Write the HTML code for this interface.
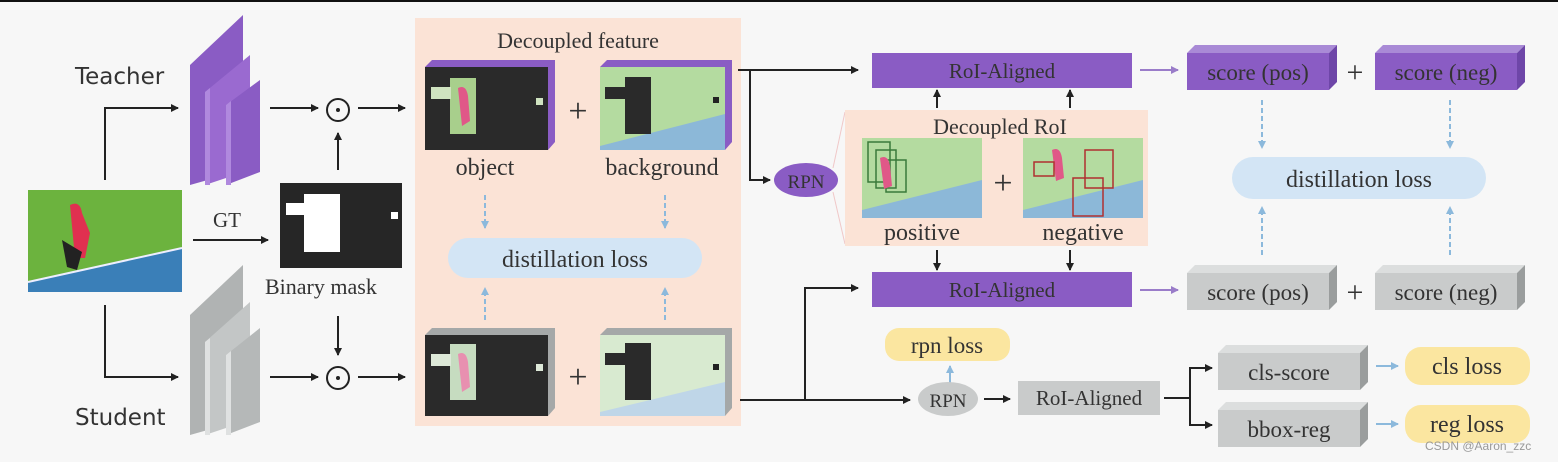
<!DOCTYPE html>
<html><head><meta charset="utf-8"><style>
html,body{margin:0;padding:0;background:#f7f7f7;}
svg{display:block}
.s{font-family:"Liberation Serif",serif;fill:#333;}
.a{font-family:"DejaVu Sans","Liberation Sans",sans-serif;fill:#333;}
</style></head><body>
<svg width="1558" height="462" viewBox="0 0 1558 462" xmlns="http://www.w3.org/2000/svg">
<defs>
<marker id="ah" markerWidth="8" markerHeight="8" refX="7" refY="4" orient="auto" markerUnits="userSpaceOnUse"><path d="M0,0 L8,4 L0,8 Z" fill="#222"/></marker>
<marker id="bh" markerWidth="8" markerHeight="8" refX="7" refY="4" orient="auto" markerUnits="userSpaceOnUse"><path d="M0,0 L8,4 L0,8 Z" fill="#8cb9dc"/></marker>
<marker id="ph" markerWidth="8" markerHeight="8" refX="7" refY="4" orient="auto" markerUnits="userSpaceOnUse"><path d="M0,0 L8,4 L0,8 Z" fill="#9a7cc9"/></marker>
</defs>
<rect width="1558" height="462" fill="#f7f7f7"/>
<rect x="0" y="0" width="1558" height="2" fill="#111"/>

<!-- Teacher -->
<text x="75" y="84" class="a" font-size="23">Teacher</text>
<g>
<polygon points="190,65 243,15 243,170 190,185" fill="#8a5cc4"/>
<polygon points="205,92 250,55 250,170 205,185" fill="#9a6ad0"/>
<polygon points="205,92 210,88 210,185 205,185" fill="#b089de"/>
<polygon points="226,105 260,80 260,172 226,185" fill="#8a5cc4"/>
<polygon points="226,105 231,101 231,185 226,185" fill="#b089de"/>
</g>
<text x="75" y="425" class="a" font-size="23">Student</text>
<g>
<polygon points="190,315 243,265 243,420 190,435" fill="#b0b3b3"/>
<polygon points="205,342 250,302 250,420 205,435" fill="#c3c6c6"/>
<polygon points="205,342 210,338 210,435 205,435" fill="#dfe1e1"/>
<polygon points="226,355 260,328 260,422 226,435" fill="#b5b8b8"/>
<polygon points="226,355 231,351 231,435 226,435" fill="#dfe1e1"/>
</g>

<!-- input image -->
<rect x="28" y="190" width="154" height="102" fill="#6cb33e"/>
<polygon points="28,282 182,248 182,292 28,292" fill="#3a7fb8"/>
<line x1="28" y1="282" x2="182" y2="248" stroke="#eef" stroke-width="2"/>
<path d="M70,205 q10,-5 12,8 l8,20 -5,25 -10,0 z" fill="#e03050"/>
<path d="M62,240 l20,12 -5,18 -10,-3z" fill="#222"/>

<!-- arrows left -->
<polyline points="105,180 105,108 178,108" fill="none" stroke="#222" stroke-width="2" marker-end="url(#ah)"/>
<polyline points="105,305 105,377 178,377" fill="none" stroke="#222" stroke-width="2" marker-end="url(#ah)"/>
<text x="213" y="227" class="s" font-size="21">GT</text>
<line x1="193" y1="240" x2="268" y2="240" stroke="#222" stroke-width="2" marker-end="url(#ah)"/>
<rect x="280" y="183" width="122" height="85" fill="#262626"/>
<rect x="304" y="194" width="36" height="58" fill="#fff"/>
<rect x="286" y="203" width="20" height="12" fill="#fff"/>
<rect x="391" y="212" width="7" height="7" fill="#fff"/>
<text x="265" y="294" class="s" font-size="22">Binary mask</text>

<line x1="270" y1="108" x2="318" y2="108" stroke="#222" stroke-width="2" marker-end="url(#ah)"/>
<circle cx="338" cy="110" r="11" fill="none" stroke="#222" stroke-width="2"/><circle cx="338" cy="110" r="2" fill="#222"/>
<line x1="358" y1="108" x2="405" y2="108" stroke="#222" stroke-width="2" marker-end="url(#ah)"/>
<line x1="338" y1="170" x2="338" y2="133" stroke="#222" stroke-width="2" marker-end="url(#ah)"/>
<line x1="270" y1="377" x2="318" y2="377" stroke="#222" stroke-width="2" marker-end="url(#ah)"/>
<circle cx="338" cy="378" r="11" fill="none" stroke="#222" stroke-width="2"/><circle cx="338" cy="378" r="2" fill="#222"/>
<line x1="358" y1="377" x2="405" y2="377" stroke="#222" stroke-width="2" marker-end="url(#ah)"/>
<line x1="338" y1="316" x2="338" y2="355" stroke="#222" stroke-width="2" marker-end="url(#ah)"/>

<!-- Decoupled feature panel -->
<rect x="415" y="18" width="326" height="408" fill="#fbe3d6"/>
<text x="578" y="48" class="s" font-size="22" text-anchor="middle">Decoupled feature</text>
<!-- teacher object -->
<polygon points="425,67 432,60 555,60 555,142 548,150 425,150" fill="#8a5cc4"/>
<rect x="425" y="67" width="123" height="83" fill="#2a2a2a"/>
<rect x="450" y="78" width="26" height="56" fill="#a8cf8c"/>
<path d="M458,88 q8,-4 10,8 l2,25 -8,5 z" fill="#e05888"/>
<rect x="431" y="87" width="20" height="12" fill="#cfe3c0"/>
<rect x="536" y="98" width="7" height="7" fill="#cfe3c0"/>
<text x="578" y="122" class="s" font-size="34" text-anchor="middle">+</text>
<polygon points="600,67 607,60 732,60 732,142 725,150 600,150" fill="#8a5cc4"/>
<rect x="600" y="67" width="125" height="83" fill="#b4dba0"/>
<polygon points="600,146 725,114 725,150 600,150" fill="#8cb8d8"/>
<rect x="625" y="77" width="26" height="57" fill="#2a2a2a"/>
<rect x="605" y="87" width="22" height="12" fill="#2a2a2a"/>
<rect x="713" y="97" width="6" height="6" fill="#222"/>
<text x="485" y="175" class="s" font-size="24" text-anchor="middle">object</text>
<text x="662" y="175" class="s" font-size="24" text-anchor="middle">background</text>
<line x1="485" y1="195" x2="485" y2="228" stroke="#8cb9dc" stroke-width="2" stroke-dasharray="5,3" marker-end="url(#bh)"/>
<line x1="665" y1="195" x2="665" y2="228" stroke="#8cb9dc" stroke-width="2" stroke-dasharray="5,3" marker-end="url(#bh)"/>
<rect x="448" y="238" width="254" height="40" rx="20" fill="#d3e5f5"/>
<text x="575" y="267" class="s" font-size="24" text-anchor="middle">distillation loss</text>
<line x1="485" y1="320" x2="485" y2="288" stroke="#8cb9dc" stroke-width="2" stroke-dasharray="5,3" marker-end="url(#bh)"/>
<line x1="665" y1="320" x2="665" y2="288" stroke="#8cb9dc" stroke-width="2" stroke-dasharray="5,3" marker-end="url(#bh)"/>
<!-- student features -->
<polygon points="425,335 432,328 555,328 555,408 548,416 425,416" fill="#a5a8a8"/>
<rect x="425" y="335" width="123" height="81" fill="#2a2a2a"/>
<rect x="450" y="344" width="26" height="56" fill="#c6dcc0"/>
<path d="M458,354 q8,-4 10,8 l2,25 -8,5 z" fill="#e890b0"/>
<rect x="431" y="354" width="20" height="12" fill="#dde8d8"/>
<rect x="536" y="364" width="7" height="7" fill="#dde8d8"/>
<text x="578" y="388" class="s" font-size="34" text-anchor="middle">+</text>
<polygon points="600,335 607,328 732,328 732,408 725,416 600,416" fill="#a5a8a8"/>
<rect x="600" y="335" width="125" height="81" fill="#d8ead0"/>
<polygon points="600,412 725,382 725,416 600,416" fill="#bfd6e8"/>
<rect x="625" y="343" width="26" height="57" fill="#2a2a2a"/>
<rect x="605" y="353" width="22" height="12" fill="#2a2a2a"/>
<rect x="713" y="364" width="6" height="6" fill="#222"/>

<!-- connectors middle -->
<line x1="738" y1="70" x2="858" y2="70" stroke="#222" stroke-width="2" marker-end="url(#ah)"/>
<polyline points="750,70 750,180 770,180" fill="none" stroke="#222" stroke-width="2" marker-end="url(#ah)"/>
<ellipse cx="806" cy="180" rx="32" ry="17" fill="#8a5cc4"/>
<text x="806" y="188" class="s" font-size="19" text-anchor="middle" fill="#333">RPN</text>
<line x1="833" y1="168" x2="845" y2="112" stroke="#f0c8c8" stroke-width="1"/>
<line x1="833" y1="192" x2="845" y2="244" stroke="#f0c8c8" stroke-width="1"/>
<polyline points="740,400 910,400" fill="none" stroke="#222" stroke-width="2" marker-end="url(#ah)"/>
<polyline points="805,400 805,288 858,288" fill="none" stroke="#222" stroke-width="2" marker-end="url(#ah)"/>

<!-- RoI Aligned -->
<rect x="872" y="53" width="260" height="35" fill="#8a5cc4"/>
<text x="1002" y="78" class="s" font-size="21" text-anchor="middle">RoI-Aligned</text>
<line x1="937" y1="108" x2="937" y2="90" stroke="#222" stroke-width="2" marker-end="url(#ah)"/>
<line x1="1070" y1="108" x2="1070" y2="90" stroke="#222" stroke-width="2" marker-end="url(#ah)"/>
<rect x="845" y="110" width="303" height="136" fill="#fbe3d6"/>
<text x="1000" y="134" class="s" font-size="22" text-anchor="middle">Decoupled RoI</text>
<rect x="862" y="138" width="120" height="80" fill="#b4dba0"/>
<polygon points="862,210 982,180 982,218 862,218" fill="#8cb8d8"/>
<rect x="868" y="142" width="22" height="40" fill="none" stroke="#3a7a3a" stroke-width="1.5"/>
<rect x="876" y="150" width="20" height="38" fill="none" stroke="#3a7a3a" stroke-width="1.5"/>
<rect x="886" y="160" width="20" height="32" fill="none" stroke="#3a7a3a" stroke-width="1.5"/>
<path d="M880,158 q8,-4 10,8 l2,20 -8,3 z" fill="#e05888"/>
<text x="1003" y="194" class="s" font-size="34" text-anchor="middle">+</text>
<rect x="1023" y="138" width="120" height="80" fill="#b4dba0"/>
<polygon points="1023,210 1143,180 1143,218 1023,218" fill="#8cb8d8"/>
<path d="M1052,150 q8,-4 10,8 l2,20 -8,3 z" fill="#e05888"/>
<rect x="1034" y="162" width="20" height="14" fill="none" stroke="#b03030" stroke-width="1.5"/>
<rect x="1085" y="150" width="28" height="38" fill="none" stroke="#b03030" stroke-width="1.5"/>
<rect x="1073" y="178" width="30" height="38" fill="none" stroke="#b03030" stroke-width="1.5"/>
<text x="922" y="240" class="s" font-size="24" text-anchor="middle">positive</text>
<text x="1083" y="240" class="s" font-size="24" text-anchor="middle">negative</text>
<line x1="937" y1="250" x2="937" y2="270" stroke="#222" stroke-width="2" marker-end="url(#ah)"/>
<line x1="1070" y1="250" x2="1070" y2="270" stroke="#222" stroke-width="2" marker-end="url(#ah)"/>
<rect x="872" y="272" width="260" height="35" fill="#8a5cc4"/>
<text x="1002" y="297" class="s" font-size="21" text-anchor="middle">RoI-Aligned</text>
<line x1="1140" y1="70" x2="1178" y2="70" stroke="#9a7cc9" stroke-width="2" marker-end="url(#ph)"/>
<line x1="1140" y1="290" x2="1178" y2="290" stroke="#9a7cc9" stroke-width="2" marker-end="url(#ph)"/>

<!-- scores -->
<g>
<polygon points="1187,53 1195,45 1337,45 1329,53" fill="#a98ad6"/>
<polygon points="1329,53 1337,45 1337,82 1329,90" fill="#6e46a8"/>
<rect x="1187" y="53" width="142" height="37" fill="#8a5cc4"/>
<text x="1258" y="80" class="s" font-size="23" text-anchor="middle">score (pos)</text>
<text x="1355" y="82" class="s" font-size="30" text-anchor="middle">+</text>
<polygon points="1375,53 1383,45 1525,45 1517,53" fill="#a98ad6"/>
<polygon points="1517,53 1525,45 1525,82 1517,90" fill="#6e46a8"/>
<rect x="1375" y="53" width="142" height="37" fill="#8a5cc4"/>
<text x="1446" y="80" class="s" font-size="23" text-anchor="middle">score (neg)</text>
</g>
<g>
<polygon points="1187,273 1195,265 1337,265 1329,273" fill="#dcdede"/>
<polygon points="1329,273 1337,265 1337,302 1329,310" fill="#9a9d9d"/>
<rect x="1187" y="273" width="142" height="37" fill="#c9cbcb"/>
<text x="1258" y="300" class="s" font-size="23" text-anchor="middle">score (pos)</text>
<text x="1355" y="302" class="s" font-size="30" text-anchor="middle">+</text>
<polygon points="1375,273 1383,265 1525,265 1517,273" fill="#dcdede"/>
<polygon points="1517,273 1525,265 1525,302 1517,310" fill="#9a9d9d"/>
<rect x="1375" y="273" width="142" height="37" fill="#c9cbcb"/>
<text x="1446" y="300" class="s" font-size="23" text-anchor="middle">score (neg)</text>
</g>
<line x1="1262" y1="100" x2="1262" y2="148" stroke="#8cb9dc" stroke-width="2" stroke-dasharray="5,3" marker-end="url(#bh)"/>
<line x1="1450" y1="100" x2="1450" y2="148" stroke="#8cb9dc" stroke-width="2" stroke-dasharray="5,3" marker-end="url(#bh)"/>
<rect x="1232" y="157" width="254" height="42" rx="21" fill="#d3e5f5"/>
<text x="1359" y="187" class="s" font-size="24" text-anchor="middle">distillation loss</text>
<line x1="1262" y1="255" x2="1262" y2="207" stroke="#8cb9dc" stroke-width="2" stroke-dasharray="5,3" marker-end="url(#bh)"/>
<line x1="1450" y1="255" x2="1450" y2="207" stroke="#8cb9dc" stroke-width="2" stroke-dasharray="5,3" marker-end="url(#bh)"/>

<!-- bottom pipeline -->
<rect x="885" y="328" width="125" height="33" rx="14" fill="#fbe6a0"/>
<text x="947" y="353" class="s" font-size="23" text-anchor="middle">rpn loss</text>
<line x1="950" y1="383" x2="950" y2="366" stroke="#8cb9dc" stroke-width="2" marker-end="url(#bh)"/>
<ellipse cx="948" cy="399" rx="30" ry="17" fill="#c9cbcb"/>
<text x="948" y="407" class="s" font-size="19" text-anchor="middle">RPN</text>
<line x1="984" y1="399" x2="1010" y2="399" stroke="#222" stroke-width="2" marker-end="url(#ah)"/>
<rect x="1018" y="381" width="142" height="34" fill="#c9cbcb"/>
<text x="1089" y="405" class="s" font-size="21" text-anchor="middle">RoI-Aligned</text>
<line x1="1164" y1="398" x2="1190" y2="398" stroke="#222" stroke-width="2"/>
<polyline points="1190,398 1190,368 1212,368" fill="none" stroke="#222" stroke-width="2" marker-end="url(#ah)"/>
<polyline points="1190,398 1190,425 1212,425" fill="none" stroke="#222" stroke-width="2" marker-end="url(#ah)"/>
<polygon points="1218,353 1226,345 1368,345 1360,353" fill="#dcdede"/>
<polygon points="1360,353 1368,345 1368,382 1360,390" fill="#9a9d9d"/>
<rect x="1218" y="353" width="142" height="37" fill="#c9cbcb"/>
<text x="1289" y="380" class="s" font-size="23" text-anchor="middle">cls-score</text>
<polygon points="1218,410 1226,402 1368,402 1360,410" fill="#dcdede"/>
<polygon points="1360,410 1368,402 1368,439 1360,447" fill="#9a9d9d"/>
<rect x="1218" y="410" width="142" height="37" fill="#c9cbcb"/>
<text x="1289" y="437" class="s" font-size="23" text-anchor="middle">bbox-reg</text>
<line x1="1376" y1="366" x2="1398" y2="366" stroke="#8cb9dc" stroke-width="2" marker-end="url(#bh)"/>
<line x1="1376" y1="424" x2="1398" y2="424" stroke="#8cb9dc" stroke-width="2" marker-end="url(#bh)"/>
<rect x="1405" y="347" width="125" height="38" rx="16" fill="#fbe6a0"/>
<text x="1467" y="374" class="s" font-size="24" text-anchor="middle">cls loss</text>
<rect x="1405" y="405" width="125" height="38" rx="16" fill="#fbe6a0"/>
<text x="1467" y="432" class="s" font-size="24" text-anchor="middle">reg loss</text>
<text x="1425" y="450" font-family="Liberation Sans,sans-serif" font-size="12" fill="#999">CSDN @Aaron_zzc</text>
</svg>
</body></html>
